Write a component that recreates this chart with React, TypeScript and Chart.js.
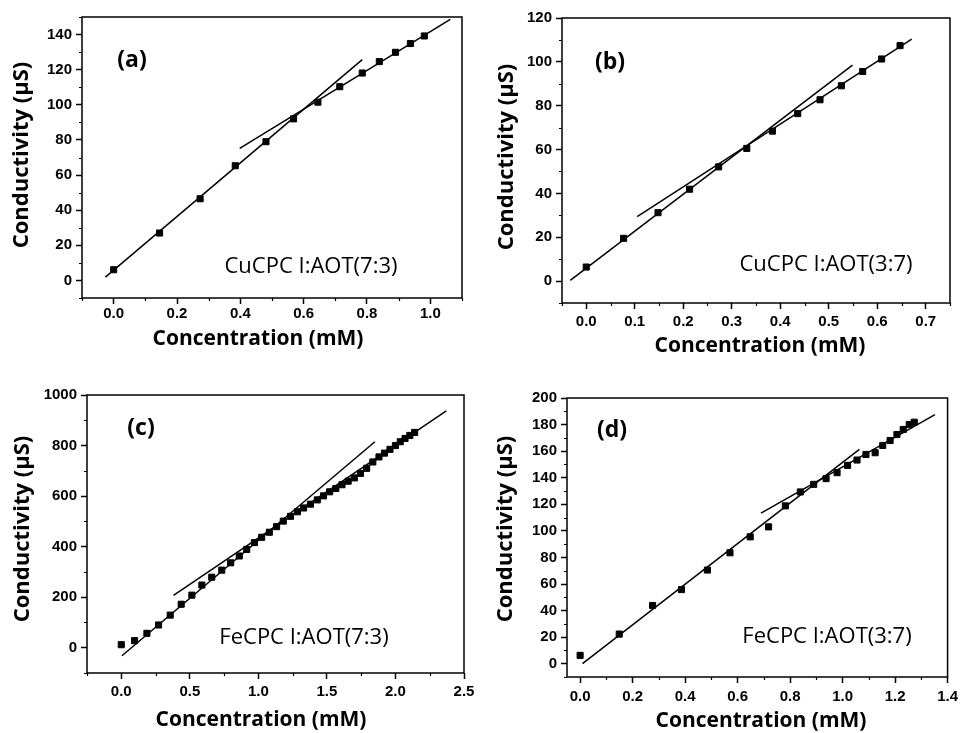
import React, { useEffect, useRef } from 'react';
import { Chart, registerables } from 'chart.js';
Chart.register(...registerables);

// ---------- Panel (a): CuCPC I:AOT(7:3) ----------
const aConc = [0, 0.145, 0.273, 0.384, 0.481, 0.568, 0.645, 0.714, 0.785, 0.839, 0.89, 0.937, 0.981];
const aCond = [6.1, 27, 46.5, 65.3, 79, 92, 101.5, 110.3, 118.1, 124.6, 129.9, 134.9, 139.2];
const aFit1X = [-0.026, 0.785];
const aFit1Y = [1.9, 125.7];
const aFit2X = [0.398, 1.063];
const aFit2Y = [75.2, 148.6];
const aXTicks = [0, 0.2, 0.4, 0.6, 0.8, 1.0];
const aYTicks = [0, 20, 40, 60, 80, 100, 120, 140];

// ---------- Panel (b): CuCPC I:AOT(3:7) ----------
const bConc = [0, 0.077, 0.148, 0.213, 0.273, 0.331, 0.384, 0.436, 0.482, 0.526, 0.57, 0.609, 0.647];
const bCond = [6.4, 19.5, 31.2, 41.9, 52.1, 60.5, 68.4, 76.4, 82.7, 89.1, 95.6, 101.3, 107.4];
const bFit1X = [-0.033, 0.549];
const bFit1Y = [0.3, 98.5];
const bFit2X = [0.105, 0.671];
const bFit2Y = [29.4, 110.4];
const bXTicks = [0, 0.1, 0.2, 0.3, 0.4, 0.5, 0.6, 0.7];
const bYTicks = [0, 20, 40, 60, 80, 100, 120];

// ---------- Panel (c): FeCPC I:AOT(7:3) ----------
const cConc = [0, 0.097, 0.187, 0.272, 0.357, 0.437, 0.515, 0.588, 0.66, 0.733, 0.798, 0.861, 0.915, 0.971,
  1.024, 1.08, 1.133, 1.182, 1.235, 1.285, 1.33, 1.38, 1.43, 1.475, 1.52, 1.565, 1.61, 1.655, 1.7, 1.745,
  1.79, 1.835, 1.88, 1.92, 1.96, 2.0, 2.035, 2.07, 2.105, 2.14];
const cCond = [12, 28, 57, 90, 129, 172, 208, 248, 279, 307, 336, 363, 389, 416,
  437, 457, 479, 501, 520, 538, 553, 568, 585, 601, 617, 630, 645, 659, 672, 690,
  710, 735, 755, 770, 785, 800, 815, 828, 840, 852];
const cFit1X = [0.005, 1.85];
const cFit1Y = [-31.7, 815];
const cFit2X = [0.381, 2.371];
const cFit2Y = [207, 937];
const cXTicks = [0, 0.5, 1.0, 1.5, 2.0, 2.5];
const cYTicks = [0, 200, 400, 600, 800, 1000];

// ---------- Panel (d): FeCPC I:AOT(3:7) ----------
const dConc = [0, 0.149, 0.276, 0.386, 0.485, 0.571, 0.648, 0.718, 0.782, 0.839, 0.89, 0.937, 0.979, 1.019,
  1.055, 1.089, 1.124, 1.153, 1.181, 1.207, 1.231, 1.254, 1.273];
const dCond = [6.3, 22.3, 43.8, 55.8, 70.5, 83.5, 95.5, 103, 118.8, 129.3, 135, 139.3, 143.8, 149.3,
  153.3, 157.5, 158.8, 164.3, 168, 172.5, 176.3, 180, 181.8];
const dFit1X = [0.009, 1.064];
const dFit1Y = [0, 161.3];
const dFit2X = [0.689, 1.352];
const dFit2Y = [113.3, 187.5];
const dXTicks = [0, 0.2, 0.4, 0.6, 0.8, 1.0, 1.2, 1.4];
const dYTicks = [0, 20, 40, 60, 80, 100, 120, 140, 160, 180, 200];

const X_TITLE = 'Concentration (mM)';
const Y_TITLE = 'Conductivity (\u00B5S)';

type Panel = {
  box: number[]; // canvas x, y, w, h (page coords)
  area: number[]; // chart area left, top, right, bottom (page coords)
  xMin: number; xMax: number; yMin: number; yMax: number;
  xTicks: number[]; yTicks: number[]; xDec: number;
  xMinor: number; yMinor: number;
  xs: number[]; ys: number[];
  fits: { x: number[]; y: number[] }[];
  tag: string; tagPos: number[];
  sample: string; samplePos: number[];
  xTitlePos: number[]; yTitlePos: number[];
  xPad: number;
};

const panels: Panel[] = [
  {
    box: [0, 0, 481, 366], area: [82, 17, 462, 298],
    xMin: -0.1, xMax: 1.1, yMin: -10, yMax: 150,
    xTicks: aXTicks, yTicks: aYTicks, xDec: 1, xMinor: 0.1, yMinor: 10,
    xs: aConc, ys: aCond,
    fits: [{ x: aFit1X, y: aFit1Y }, { x: aFit2X, y: aFit2Y }],
    tag: '(a)', tagPos: [132, 60], sample: 'CuCPC I:AOT(7:3)', samplePos: [311, 267],
    xTitlePos: [258, 339], yTitlePos: [22, 155], xPad: 1,
  },
  {
    box: [481, 0, 482, 366], area: [562, 18, 950, 303],
    xMin: -0.05, xMax: 0.75, yMin: -10, yMax: 120,
    xTicks: bXTicks, yTicks: bYTicks, xDec: 1, xMinor: 0.05, yMinor: 10,
    xs: bConc, ys: bCond,
    fits: [{ x: bFit1X, y: bFit1Y }, { x: bFit2X, y: bFit2Y }],
    tag: '(b)', tagPos: [610, 62], sample: 'CuCPC I:AOT(3:7)', samplePos: [826, 265],
    xTitlePos: [760, 346], yTitlePos: [507, 157], xPad: 4,
  },
  {
    box: [0, 366, 481, 367], area: [87, 395, 464, 673],
    xMin: -0.25, xMax: 2.5, yMin: -100, yMax: 1000,
    xTicks: cXTicks, yTicks: cYTicks, xDec: 1, xMinor: 0.25, yMinor: 100,
    xs: cConc, ys: cCond,
    fits: [{ x: cFit1X, y: cFit1Y }, { x: cFit2X, y: cFit2Y }],
    tag: '(c)', tagPos: [141, 428], sample: 'FeCPC I:AOT(7:3)', samplePos: [304, 638],
    xTitlePos: [261, 720], yTitlePos: [23, 529], xPad: 4,
  },
  {
    box: [481, 366, 482, 367], area: [567, 398, 948, 677],
    xMin: -0.05, xMax: 1.4, yMin: -10, yMax: 200,
    xTicks: dXTicks, yTicks: dYTicks, xDec: 1, xMinor: 0.1, yMinor: 10,
    xs: dConc, ys: dCond,
    fits: [{ x: dFit1X, y: dFit1Y }, { x: dFit2X, y: dFit2Y }],
    tag: '(d)', tagPos: [612, 430], sample: 'FeCPC I:AOT(3:7)', samplePos: [827, 637],
    xTitlePos: [761, 721], yTitlePos: [506, 529], xPad: 5,
  },
];

const TICK_FONT = { family: "'Liberation Sans', Arial, sans-serif", weight: 'bold' as const, size: 15 };

function PanelChart({ p }: { p: Panel }) {
  const ref = useRef<HTMLCanvasElement>(null);
  const [ox, oy, w, h] = p.box;
  useEffect(() => {
    const cv = ref.current!;
    const areaL = p.area[0] - ox;
    const areaT = p.area[1] - oy;
    const areaR = p.area[2] - ox;
    const areaB = p.area[3] - oy;

    const decorPlugin = {
      id: 'decor',
      afterDraw(chart: any) {
        const ctx = chart.ctx as CanvasRenderingContext2D;
        const ca = chart.chartArea;
        const xs = chart.scales.x;
        const ys = chart.scales.y;
        ctx.save();
        ctx.strokeStyle = '#000';
        ctx.lineWidth = 1.5;
        ctx.strokeRect(ca.left, ca.top, ca.right - ca.left, ca.bottom - ca.top);
        // minor ticks
        ctx.lineWidth = 1.2;
        ctx.beginPath();
        const isMajor = (arr: number[], v: number) => arr.some((t) => Math.abs(t - v) < 1e-7);
        for (let k = Math.ceil(p.xMin / p.xMinor - 1e-7); k * p.xMinor <= p.xMax + 1e-7; k++) {
          const v = k * p.xMinor;
          if (isMajor(p.xTicks, v)) continue;
          const px = Math.round(xs.getPixelForValue(v)) + 0.5;
          ctx.moveTo(px, ca.bottom);
          ctx.lineTo(px, ca.bottom + 3);
        }
        for (let k = Math.ceil(p.yMin / p.yMinor - 1e-7); k * p.yMinor <= p.yMax + 1e-7; k++) {
          const v = k * p.yMinor;
          if (isMajor(p.yTicks, v)) continue;
          const py = Math.round(ys.getPixelForValue(v)) + 0.5;
          ctx.moveTo(ca.left, py);
          ctx.lineTo(ca.left - 3, py);
        }
        ctx.stroke();

        ctx.fillStyle = '#000';
        ctx.textAlign = 'center';
        ctx.textBaseline = 'middle';
        ctx.font = "bold 21px 'Open Sans', sans-serif";
        ctx.fillText(X_TITLE, p.xTitlePos[0] - ox, p.xTitlePos[1] - oy);
        ctx.save();
        ctx.translate(p.yTitlePos[0] - ox, p.yTitlePos[1] - oy);
        ctx.rotate(-Math.PI / 2);
        ctx.font = "bold 22px 'Open Sans', sans-serif";
        ctx.fillText(Y_TITLE, 0, 0);
        ctx.restore();

        ctx.font = "bold 23px 'Open Sans', sans-serif";
        ctx.fillText(p.tag, p.tagPos[0] - ox, p.tagPos[1] - oy);
        ctx.font = "500 22px 'Open Sans', sans-serif";
        ctx.fillText(p.sample, p.samplePos[0] - ox, p.samplePos[1] - oy);
        ctx.restore();
      },
    };

    const chart = new Chart(cv, {
      type: 'scatter',
      data: {
        datasets: [
          {
            data: p.xs.map((x, i) => ({ x, y: p.ys[i] })),
            pointStyle: 'rect',
            pointRadius: 4.3,
            backgroundColor: '#000',
            borderColor: '#000',
            borderWidth: 1,
            showLine: false,
          } as any,
          ...p.fits.map((f) => ({
            data: f.x.map((x, i) => ({ x, y: f.y[i] })),
            showLine: true,
            pointRadius: 0,
            borderColor: '#000',
            borderWidth: 1.5,
            fill: false,
          })),
        ],
      },
      options: {
        responsive: false,
        animation: false,
        devicePixelRatio: 1,
        layout: { padding: { left: 0, top: areaT, right: w - areaR, bottom: 0 } },
        plugins: { legend: { display: false }, tooltip: { enabled: false }, title: { display: false } },
        scales: {
          x: {
            type: 'linear',
            min: p.xMin,
            max: p.xMax,
            afterBuildTicks: (s: any) => { s.ticks = p.xTicks.map((v) => ({ value: v })); },
            afterFit: (s: any) => { s.height = h - areaB; },
            ticks: {
              callback: (v: any) => Number(v).toFixed(p.xDec),
              font: TICK_FONT,
              color: '#000',
              padding: p.xPad,
              maxRotation: 0,
              autoSkip: false,
            },
            grid: { drawOnChartArea: false, drawTicks: true, tickLength: 6, tickColor: '#000', tickWidth: 1.5 },
            border: { display: false },
          },
          y: {
            type: 'linear',
            min: p.yMin,
            max: p.yMax,
            afterBuildTicks: (s: any) => { s.ticks = p.yTicks.map((v) => ({ value: v })); },
            afterFit: (s: any) => { s.width = areaL; },
            ticks: {
              callback: (v: any) => String(Math.round(Number(v))),
              font: TICK_FONT,
              color: '#000',
              padding: 4,
              autoSkip: false,
            },
            grid: { drawOnChartArea: false, drawTicks: true, tickLength: 6, tickColor: '#000', tickWidth: 1.5 },
            border: { display: false },
          },
        },
      } as any,
      plugins: [decorPlugin],
    });
    return () => chart.destroy();
  }, []);
  return (
    <canvas
      ref={ref}
      width={w}
      height={h}
      style={{ position: 'absolute', left: ox, top: oy, width: w, height: h }}
    />
  );
}

export default function App() {
  return (
    <div style={{ position: 'fixed', left: 0, top: 0, width: 963, height: 733, background: '#fff' }}>
      {panels.map((p, i) => (
        <PanelChart key={i} p={p} />
      ))}
    </div>
  );
}
